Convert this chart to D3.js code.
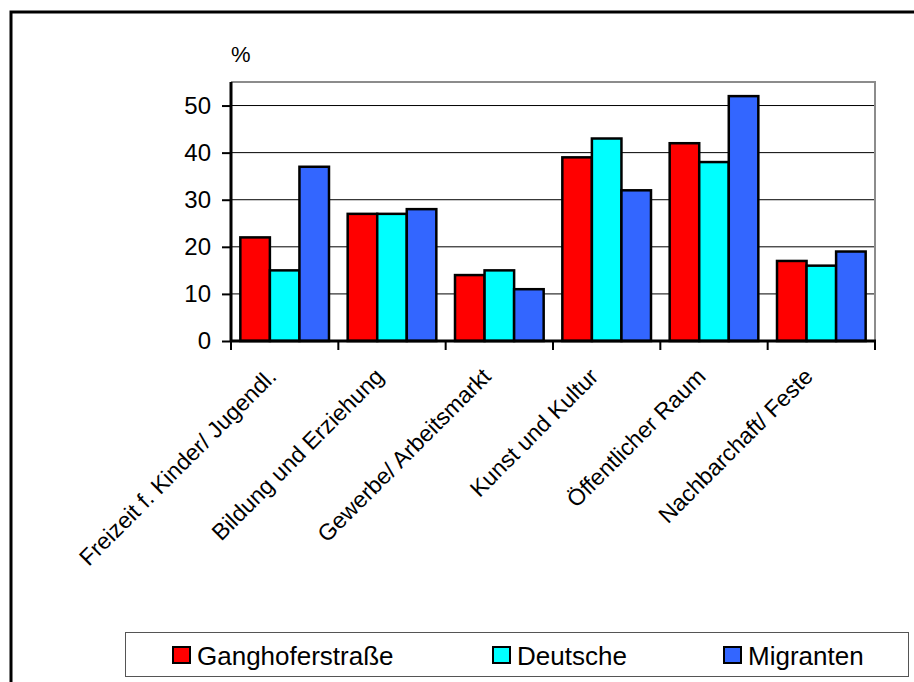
<!DOCTYPE html>
<html>
<head>
<meta charset="utf-8">
<script src="https://cdn.jsdelivr.net/npm/d3@7"></script>
<style>
  html, body { margin: 0; padding: 0; background: #fff; }
  svg { display: block; }
  text { font-family: "Liberation Sans", Arial, sans-serif; fill: #000; }
</style>
</head>
<body>
<svg id="chart" width="914" height="682"></svg>
<script>
// Themen der Befragung und Antworten in Prozent
const categories = [
  "Freizeit f. Kinder/ Jugendl.",
  "Bildung und Erziehung",
  "Gewerbe/ Arbeitsmarkt",
  "Kunst und Kultur",
  "Öffentlicher Raum",
  "Nachbarchaft/ Feste"
];
const seriesNames = ["Ganghoferstraße", "Deutsche", "Migranten"];
const ganghofer = [22, 27, 14, 39, 42, 17];
const deutsche  = [15, 27, 15, 43, 38, 16];
const migranten = [37, 28, 11, 32, 52, 19];
const yTicks = [0, 10, 20, 30, 40, 50];
const colors = ["#ff0000", "#00ffff", "#3366ff"];

const seriesValues = [ganghofer, deutsche, migranten];
const rows = categories.map((c, i) => ({
  cat: c,
  vals: seriesNames.map((s, k) => ({ name: s, value: seriesValues[k][i], color: colors[k] }))
}));

const svg = d3.select("#chart");

// Rahmen um die gesamte Grafik
svg.append("rect")
  .attr("x", 11).attr("y", 12)
  .attr("width", 1000).attr("height", 1000)
  .attr("fill", "none").attr("stroke", "#000").attr("stroke-width", 3);

const plot = { left: 231, right: 875, top: 82, bottom: 341 };

const x = d3.scaleBand().domain(categories).range([plot.left, plot.right]).padding(0);
const bw = x.bandwidth();
const x1 = d3.scaleBand().domain(seriesNames).range([bw * 0.087, bw * 0.913]).padding(0);
const y = d3.scaleLinear().domain([0, 55]).range([plot.bottom, plot.top]);

// Gitternetzlinien
svg.append("g")
  .selectAll("line")
  .data(yTicks.filter(t => t > 0))
  .join("line")
  .attr("x1", plot.left).attr("x2", plot.right)
  .attr("y1", d => y(d)).attr("y2", d => y(d))
  .attr("stroke", "#000").attr("stroke-width", 1);

// Rahmen der Zeichenfläche (oben und rechts)
svg.append("path")
  .attr("d", `M${plot.left},${plot.top}H${plot.right}V${plot.bottom}`)
  .attr("fill", "none").attr("stroke", "#8c8c8c").attr("stroke-width", 2);

// Balken
const groups = svg.append("g")
  .selectAll("g")
  .data(rows)
  .join("g")
  .attr("transform", d => `translate(${x(d.cat)},0)`);

groups.selectAll("rect")
  .data(d => d.vals)
  .join("rect")
  .attr("x", d => x1(d.name))
  .attr("width", x1.bandwidth())
  .attr("y", d => y(d.value))
  .attr("height", d => y(0) - y(d.value))
  .attr("fill", d => d.color)
  .attr("stroke", "#000")
  .attr("stroke-width", 2.5);

// Y-Achse
const yAxis = svg.append("g")
  .attr("transform", `translate(${plot.left},0)`)
  .call(d3.axisLeft(y).tickValues(yTicks).tickSize(9).tickPadding(11).tickFormat(d3.format("d")));
yAxis.select(".domain").attr("stroke", "#000").attr("stroke-width", 3)
  .attr("d", `M0,${plot.top}V${plot.bottom}`);
yAxis.selectAll(".tick line").attr("stroke", "#000").attr("stroke-width", 2);
yAxis.selectAll(".tick text")
  .attr("font-size", 24).attr("fill", "#000")
  .attr("font-family", "'Liberation Sans', Arial, sans-serif");

// X-Achse mit Teilstrichen an den Kategoriegrenzen
const xAxis = svg.append("g");
xAxis.append("line")
  .attr("x1", plot.left - 1).attr("x2", plot.right + 1)
  .attr("y1", plot.bottom).attr("y2", plot.bottom)
  .attr("stroke", "#000").attr("stroke-width", 3);
const boundaries = categories.map(c => x(c)).concat([x(categories[categories.length - 1]) + bw]);
xAxis.selectAll("line.tick")
  .data(boundaries)
  .join("line")
  .attr("class", "tick")
  .attr("x1", d => d).attr("x2", d => d)
  .attr("y1", plot.bottom).attr("y2", plot.bottom + 9)
  .attr("stroke", "#000").attr("stroke-width", 2);

// Kategorienbeschriftung, um 45° gedreht
xAxis.selectAll("text")
  .data(categories)
  .join("text")
  .attr("text-anchor", "end")
  .attr("font-size", 23)
  .attr("transform", d => `translate(${x(d) + bw / 2 - 7},${plot.bottom + 37}) rotate(-45)`)
  .text(d => d);

// Einheit
svg.append("text")
  .attr("x", 231).attr("y", 62)
  .attr("font-size", 22)
  .text("%");

// Legende
const legend = svg.append("g");
legend.append("rect")
  .attr("x", 125.5).attr("y", 632.5)
  .attr("width", 783).attr("height", 44)
  .attr("fill", "#fff").attr("stroke", "#555").attr("stroke-width", 1);
const legendX = [173, 493, 724];
const items = legend.selectAll("g.item")
  .data(seriesNames.map((s, k) => ({ name: s, color: colors[k], x: legendX[k] })))
  .join("g")
  .attr("class", "item")
  .attr("transform", d => `translate(${d.x},647)`);
items.append("rect")
  .attr("width", 17).attr("height", 16)
  .attr("fill", d => d.color)
  .attr("stroke", "#000").attr("stroke-width", 2);
items.append("text")
  .attr("x", 24).attr("y", 18)
  .attr("font-size", 26)
  .text(d => d.name);
</script>
</body>
</html>
